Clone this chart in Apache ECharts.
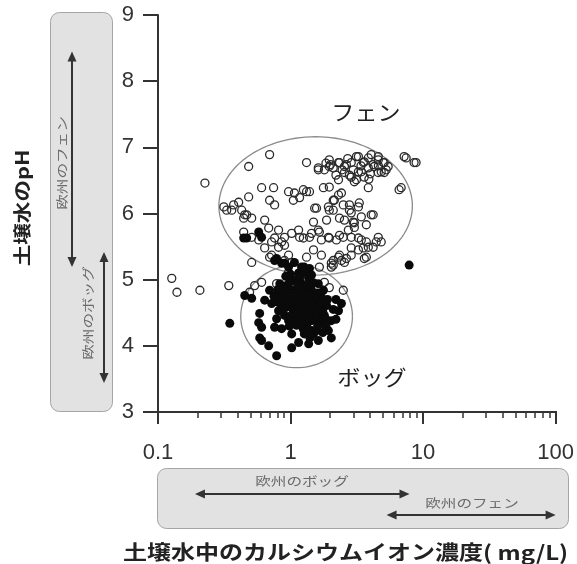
<!DOCTYPE html>
<html><head><meta charset="utf-8">
<script src="https://cdn.jsdelivr.net/npm/echarts@6/dist/echarts.min.js"></script>
<style>html,body{margin:0;padding:0;background:#fff}#c{width:577px;height:564px}</style>
</head><body><div id="c"></div>
<script>
// ---- data ----
const xMajorTicks = [0.1, 1, 10, 100];
const xMinorTicks = [0.2,0.3,0.4,0.5,0.6,0.7,0.8,0.9,2,3,4,5,6,7,8,9,20,30,40,50,60,70,80,90];
const yTicks = [3,4,5,6,7,8,9];
// [Ca mg/L, pH]
const fenPoints = [[0.127,5.02],[0.139,4.81],[0.207,4.84],[0.342,4.91],[0.226,6.46],[0.483,6.71],[0.695,6.89],[1.32,6.77],[1.96,6.81],[1.80,6.66],[1.62,6.69],[2.10,6.69],[2.30,6.77],[2.55,6.71],[2.87,6.77],[3.25,6.86],[3.60,6.78],[4.06,6.89],[4.59,6.81],[5.09,6.77],[5.45,6.71],[4.83,6.63],[3.86,6.69],[3.25,6.63],[2.87,6.55],[2.55,6.62],[2.30,6.51],[3.03,6.48],[3.60,6.55],[5.09,6.62],[4.28,6.71],[7.45,6.84],[8.85,6.77],[6.83,6.39],[6.59,6.36],[3.86,6.39],[1.77,6.39],[0.605,6.39],[0.745,6.39],[0.966,6.33],[1.07,6.31],[1.32,6.33],[1.17,6.24],[1.05,6.20],[0.695,6.20],[0.758,6.13],[0.483,6.25],[0.406,6.17],[0.372,6.13],[0.330,6.05],[0.428,6.05],[0.467,5.98],[0.443,5.93],[1.52,6.08],[1.93,6.10],[2.14,6.20],[2.30,6.28],[2.10,6.05],[2.50,6.13],[2.78,6.13],[3.25,6.10],[2.87,6.01],[4.06,5.98],[3.42,5.95],[2.55,5.90],[3.03,5.86],[0.509,5.64],[0.638,5.90],[0.684,5.78],[0.812,5.75],[0.901,5.64],[1.02,5.70],[1.15,5.75],[1.25,5.63],[1.44,5.70],[1.62,5.75],[1.71,5.60],[1.93,5.64],[2.22,5.60],[2.50,5.64],[2.73,5.75],[3.03,5.79],[2.87,5.64],[3.42,5.60],[3.86,5.49],[4.59,5.64],[4.83,5.57],[3.73,5.34],[2.30,5.34],[2.55,5.26],[2.03,5.25],[0.509,5.26],[0.695,5.34],[0.812,5.49],[0.901,5.52],[0.720,5.57],[0.575,5.60],[0.605,4.96],[0.536,4.91],[0.491,4.81],[0.785,4.94],[0.966,5.11],[0.901,5.29],[1.65,5.19],[1.80,4.96],[1.96,4.88],[2.50,4.84],[2.10,5.22],[2.42,5.29],[2.87,5.37],[3.60,5.32],[3.25,5.45],[1.62,6.66],[1.96,6.71],[2.34,6.77],[2.64,6.74],[2.97,6.66],[3.14,6.86],[3.54,6.77],[3.86,6.84],[4.20,6.74],[4.59,6.86],[5.00,6.77],[5.27,6.66],[4.59,6.62],[3.42,6.63],[3.14,6.51],[2.78,6.58],[1.96,6.40],[7.19,6.86],[8.55,6.77],[2.42,6.31],[2.10,6.20],[3.30,6.16],[1.25,6.36],[1.39,6.33],[1.57,6.08],[1.96,6.05],[2.78,6.05],[4.20,5.98],[1.49,5.87],[1.87,5.90],[2.34,5.93],[2.97,5.87],[3.73,5.83],[1.17,5.64],[1.39,5.64],[1.65,5.72],[1.96,5.63],[2.34,5.67],[3.25,5.63],[3.73,5.57],[4.43,5.57],[4.20,5.49],[3.54,5.48],[2.87,5.48],[2.34,5.37],[2.10,5.29],[2.64,5.32],[2.03,5.19],[0.314,6.10],[0.360,6.05],[0.451,5.98],[0.509,5.93],[0.443,5.72],[0.758,5.63],[0.856,5.57],[0.638,5.48],[0.720,5.37],[0.966,5.37],[1.02,5.26],[1.49,5.45],[1.32,5.34],[1.71,5.37],[2.0,6.74],[2.45,6.66],[3.4,6.72],[4.0,6.60],[2.7,6.83],[3.9,6.52],[2.2,6.58],[1.85,6.76],[4.6,6.72]];
const bogPoints = [[7.85,5.22],[0.348,4.34],[0.451,4.76],[0.509,4.72],[0.758,5.29],[0.901,5.25],[1.07,5.26],[1.27,5.19],[1.15,5.10],[1.37,5.02],[1.62,4.94],[1.71,4.73],[2.42,4.64],[2.30,4.53],[2.03,4.38],[1.93,4.23],[2.03,4.12],[1.62,4.08],[1.37,4.03],[1.15,4.05],[1.02,3.97],[1.27,4.18],[1.44,4.23],[0.720,4.64],[0.856,4.58],[0.966,4.69],[1.02,4.84],[0.856,4.79],[1.15,4.73],[1.37,4.64],[1.62,4.53],[1.80,4.46],[1.44,4.38],[1.21,4.31],[1.07,4.43],[0.901,4.46],[0.812,4.53],[0.585,4.49],[0.575,4.35],[0.605,4.28],[0.758,4.28],[0.856,4.26],[0.605,4.08],[0.684,4.00],[0.785,3.85],[1.02,4.18],[1.15,4.53],[1.27,4.84],[1.07,4.99],[1.27,4.43],[1.71,4.34],[1.49,4.18],[0.443,5.63],[0.467,5.63],[0.575,5.72],[0.605,5.64],[1.21,5.19],[1.39,5.17],[0.785,5.32],[0.856,5.25],[0.966,5.19],[0.933,4.91],[1.21,4.94],[1.44,4.84],[1.02,4.61],[1.21,4.69],[1.52,4.72],[0.933,4.76],[1.11,4.84],[1.32,4.53],[1.11,4.69],[1.05,4.53],[1.21,4.81],[0.983,4.96],[1.32,4.76],[1.57,4.61],[1.87,4.61],[1.77,4.84],[1.44,5.07],[1.17,4.99],[0.901,4.69],[0.83,4.72],[1.21,4.50],[1.44,4.49],[1.65,4.41],[0.966,4.38],[0.785,4.41],[1.11,4.31],[1.32,4.31],[1.57,4.23],[0.695,4.84],[0.638,4.69],[0.83,4.94],[0.585,4.12],[0.95,4.85],[1.05,4.72],[1.15,4.62],[1.25,4.58],[1.35,4.70],[1.45,4.62],[1.55,4.52],[1.65,4.62],[1.0,4.45],[1.1,4.38],[1.2,4.42],[1.3,4.45],[1.4,4.55],[1.5,4.40],[1.6,4.30],[1.75,4.52],[1.85,4.40],[0.92,4.58],[0.88,4.88],[1.25,4.90],[1.35,4.92],[1.5,4.95],[1.18,5.05],[1.0,5.08],[0.92,5.05],[1.3,5.1],[1.6,4.8],[1.9,4.7],[2.1,4.55],[2.2,4.7],[1.13,4.92],[1.4,4.78],[1.7,4.65],[0.98,4.30],[1.25,4.25],[1.4,4.12],[1.75,4.20],[1.85,4.3],[2.2,4.4],[0.8,4.66],[0.75,4.75],[0.8,4.85]];
// ellipse bounds: [Ca min, Ca max, pH min, pH max]
const fenEllipse = [0.288, 8.3, 5.07, 7.16];
const bogEllipse = [0.421, 2.93, 3.67, 5.22];
// European ranges shown in the side boxes
const euroBogCa = [0.19, 7.9];
const euroFenCa = [5.3, 100];
const euroFenPH = [5.19, 8.45];
const euroBogPH = [3.44, 5.42];
const fenLabel = 'フェン', bogLabel = 'ボッグ';
const euroFenText = '欧州のフェン', euroBogText = '欧州のボッグ';
const xTitle = '土壌水中のカルシウムイオン濃度( mg/L)';
const yTitle = '土壌水のpH';

const chart = echarts.init(document.getElementById('c'));
const AX = '#333';
const lblFont = {fontSize:22, color:'#333', fontFamily:'Liberation Sans, Arial, sans-serif'};
const option = {
  animation:false,
  backgroundColor:'#fff',
  grid:{left:158, right:21, top:15, bottom:152, containLabel:false},
  xAxis:{
    type:'log', logBase:10, min:0.1, max:100, position:'bottom',
    axisLine:{show:true, lineStyle:{color:AX, width:2}},
    axisTick:{show:true, inside:false, length:12, lineStyle:{color:AX, width:2}},
    axisLabel:Object.assign({margin:30, showMinLabel:true, showMaxLabel:true,
      formatter:v=>String(+(+v).toPrecision(3))}, lblFont),
    splitLine:{show:false}, minorTick:{show:false}
  },
  yAxis:{
    type:'value', min:3, max:9, interval:1,
    axisLine:{show:true, lineStyle:{color:AX, width:2}},
    axisTick:{show:true, inside:false, length:15, lineStyle:{color:AX, width:2}},
    axisLabel:Object.assign({margin:24}, lblFont),
    splitLine:{show:false}
  },
  series:[{
    type:'scatter', data:fenPoints, symbol:'circle', symbolSize:8,
    itemStyle:{color:'rgba(255,255,255,0)', borderColor:'#2a2a2a', borderWidth:1.3, opacity:1}, silent:true
  },{
    type:'scatter', data:bogPoints, symbol:'circle', symbolSize:9,
    itemStyle:{color:'#0a0a0a', opacity:1}, silent:true
  }]
};
chart.setOption(option);

const px = v => chart.convertToPixel({xAxisIndex:0}, v);
const py = v => chart.convertToPixel({yAxisIndex:0}, v);

function ellipse(b){
  const x0 = px(b[0]), x1 = px(b[1]), y0 = py(b[3]), y1 = py(b[2]);
  const cx=(x0+x1)/2, cy=(y0+y1)/2, rx=(x1-x0)/2, ry=(y1-y0)/2;
  const pts=[];
  for(let i=0;i<=120;i++){const t=i/120*Math.PI*2; pts.push([cx+rx*Math.cos(t), cy+ry*Math.sin(t)]);}
  return {type:'polyline', z:1, shape:{points:pts}, style:{fill:null, stroke:'#8a8a8a', lineWidth:1.3}};
}
function arrow(x1,y1,x2,y2){
  const L=10, W=4.5, col='#333';
  const dx=x2-x1, dy=y2-y1, len=Math.hypot(dx,dy), ux=dx/len, uy=dy/len, nx=-uy, ny=ux;
  const head=(tx,ty,sx,sy)=>({type:'polygon', shape:{points:[[tx,ty],[tx-sx*L+nx*W,ty-sy*L+ny*W],[tx-sx*L-nx*W,ty-sy*L-ny*W]]}, style:{fill:col}});
  return [
    {type:'line', shape:{x1:x1+ux*L*0.8, y1:y1+uy*L*0.8, x2:x2-ux*L*0.8, y2:y2-uy*L*0.8}, style:{stroke:col, lineWidth:2}},
    head(x2,y2,ux,uy), head(x1,y1,-ux,-uy)
  ];
}
function txt(s, x, y, font, fill, rot, sx, align){
  return {type:'text', x:x, y:y, rotation:rot||0, scaleX:sx||1, scaleY:1,
    style:{text:s, x:0, y:0, font:font, fill:fill, align:align||'center', verticalAlign:'middle'}};
}
const smallFont = '12px "Noto Sans CJK JP", sans-serif';
const g = [];
// x-axis ticks as thin filled rects on their own layer, positioned through the log scale
const yBase = py(yTicks[0]);
xMinorTicks.forEach(v => { const x = Math.round(px(v)); g.push({type:'rect', zlevel:1, z:100, shape:{x:x-0.75, y:yBase, width:1.5, height:6}, style:{fill:AX}}); });
xMajorTicks.forEach(v => { const x = Math.round(px(v)); g.push({type:'rect', zlevel:1, z:100, shape:{x:x-1, y:yBase-1, width:2, height:13}, style:{fill:AX}}); });
g.push(ellipse(fenEllipse));
g.push(ellipse(bogEllipse));
g.push({type:'rect', shape:{x:50.5, y:12.5, width:62, height:399, r:9}, style:{fill:'#e2e2e2', stroke:'#a5a5a5', lineWidth:1}});
g.push({type:'rect', shape:{x:157.5, y:468.5, width:411, height:60, r:9}, style:{fill:'#e2e2e2', stroke:'#a5a5a5', lineWidth:1}});
g.push(...arrow(72, py(euroFenPH[1]), 72, py(euroFenPH[0])));
g.push(...arrow(104, py(euroBogPH[0]), 104, py(euroBogPH[1])));
g.push(...arrow(px(euroBogCa[0]), 494, px(euroBogCa[1]), 494));
g.push(...arrow(px(euroFenCa[0]), 515, px(euroFenCa[1]), 515));
g.push(txt(euroFenText, 62, 163, smallFont, '#6a6a6a', Math.PI/2, 1.3));
g.push(txt(euroBogText, 88, 313, smallFont, '#6a6a6a', Math.PI/2, 1.3));
g.push(txt(euroBogText, 302, 481, smallFont, '#6a6a6a', 0, 1.3));
g.push(txt(euroFenText, 472, 503, smallFont, '#6a6a6a', 0, 1.3));
g.push(txt(fenLabel, 366, 112, '21px "Noto Sans CJK JP", sans-serif', '#222', 0, 1.1));
g.push(txt(bogLabel, 372, 377, '21px "Noto Sans CJK JP", sans-serif', '#222', 0, 1.1));
g.push(txt(yTitle, 22, 208, 'bold 18px "Noto Sans CJK JP", sans-serif', '#222', Math.PI/2, 1.2));
g.push(txt(xTitle, 123, 552, 'bold 20px "Noto Sans CJK JP", sans-serif', '#222', 0, 1.2, 'left'));
chart.setOption({graphic:{elements:g}});
</script></body></html>
